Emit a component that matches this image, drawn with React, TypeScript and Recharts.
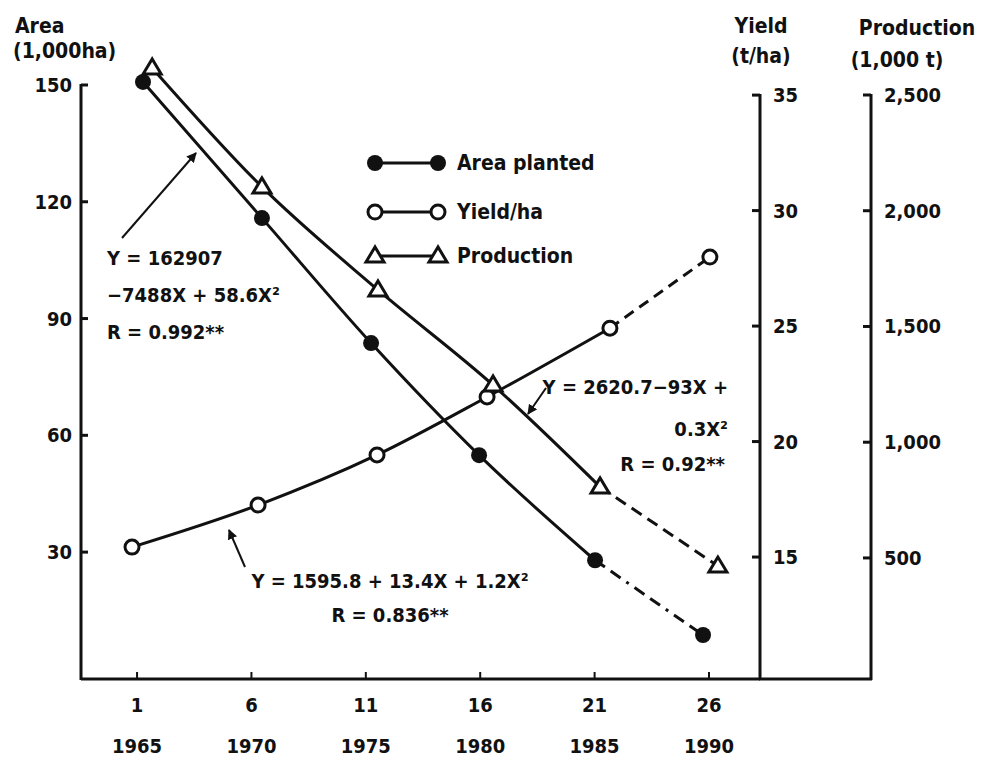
import React from 'react';
import { ComposedChart, Line, Scatter, XAxis, YAxis, Legend } from 'recharts';

// ---------- data ----------
const xTicks = [1, 6, 11, 16, 21, 26];
const yearLabels = ['1965', '1970', '1975', '1980', '1985', '1990'];

const areaX = [1.26, 6.46, 11.23, 15.95, 21.02, 25.74];
const areaValues = [150.8, 115.8, 83.7, 54.9, 27.9, 8.7];

const yieldX = [0.78, 6.29, 11.49, 16.3, 21.67, 26.04];
const yieldValues = [15.43, 17.25, 19.42, 21.93, 24.91, 27.99];

const prodX = [1.66, 6.46, 11.53, 16.56, 21.24, 26.39];
const prodValues = [2617, 2103, 1658, 1247, 807, 465];

const areaTicks = [30, 60, 90, 120, 150];
const yieldTicks = [15, 20, 25, 30, 35];
const prodTicks = [500, 1000, 1500, 2000, 2500];
const prodTickLabels = ['500', '1,000', '1,500', '2,000', '2,500'];

const seriesNames = ['Area planted', 'Yield/ha', 'Production'];

// ---------- helpers ----------
const mk = (xs: number[], ys: number[]) => xs.map((x, i) => ({ x, y: ys[i] }));
const areaData = mk(areaX, areaValues);
const yieldData = mk(yieldX, yieldValues);
const prodData = mk(prodX, prodValues);

const FONT = "'DejaVu Sans Condensed', 'DejaVu Sans', sans-serif";
const INK = '#111';
const Y_AX = 'a_yield';
const P_AX = 'b_prod';

const XTick = (p: any) => {
  const i = xTicks.indexOf(p.payload.value);
  return (
    <g>
      <line x1={p.x} x2={p.x} y1={p.y - 7} y2={p.y} stroke={INK} strokeWidth={2} />
      <text x={p.x} y={p.y + 33} textAnchor="middle" fontFamily={FONT} fontWeight="bold" fontSize={20} fill={INK}>
        {String(p.payload.value)}
      </text>
      <text x={p.x} y={p.y + 74} textAnchor="middle" fontFamily={FONT} fontWeight="bold" fontSize={20} fill={INK}>
        {yearLabels[i]}
      </text>
    </g>
  );
};

const LeftTick = (p: any) => (
  <g>
    <line x1={p.x} x2={p.x + 7} y1={p.y} y2={p.y} stroke={INK} strokeWidth={3} />
    <text x={p.x - 9} y={p.y + 7} textAnchor="end" fontFamily={FONT} fontWeight="bold" fontSize={20} fill={INK}>
      {String(p.payload.value)}
    </text>
  </g>
);

const YieldTick = (p: any) => (
  <g>
    <line x1={p.x - 8} x2={p.x} y1={p.y} y2={p.y} stroke={INK} strokeWidth={3} />
    <text x={p.x + 13} y={p.y + 7} textAnchor="start" fontFamily={FONT} fontWeight="bold" fontSize={20} fill={INK}>
      {String(p.payload.value)}
    </text>
  </g>
);

const ProdTick = (p: any) => {
  const i = prodTicks.indexOf(p.payload.value);
  return (
    <g>
      <line x1={p.x - 8} x2={p.x} y1={p.y} y2={p.y} stroke={INK} strokeWidth={3} />
      <text x={p.x + 13} y={p.y + 7} textAnchor="start" fontFamily={FONT} fontWeight="bold" fontSize={20} fill={INK}>
        {prodTickLabels[i]}
      </text>
    </g>
  );
};

const FilledDot = (p: any) => <circle cx={p.cx} cy={p.cy} r={8} fill={INK} />;
const OpenDot = (p: any) => <circle cx={p.cx} cy={p.cy} r={7} fill="#fff" stroke={INK} strokeWidth={3} />;
const Tri = (p: any) => (
  <polygon
    points={`${p.cx},${p.cy - 9} ${p.cx - 9},${p.cy + 6} ${p.cx + 9},${p.cy + 6}`}
    fill="#fff"
    stroke={INK}
    strokeWidth={3}
  />
);

const LegendBox = () => (
  <svg width={260} height={125}>
    {seriesNames.map((name, i) => {
      const y = [15, 64, 108][i];
      const m1 = { cx: 20, cy: y };
      const m2 = { cx: 83, cy: y };
      return (
        <g key={name}>
          <line x1={20} x2={83} y1={y} y2={y} stroke={INK} strokeWidth={3} />
          {i === 0 && (<><FilledDot {...m1} /><FilledDot {...m2} /></>)}
          {i === 1 && (<><OpenDot {...m1} /><OpenDot {...m2} /></>)}
          {i === 2 && (<><Tri {...m1} /><Tri {...m2} /></>)}
          <text x={102} y={y + 7} fontFamily={FONT} fontWeight="bold" fontSize={21} fill={INK}>{name}</text>
        </g>
      );
    })}
  </svg>
);

const txt = { fontFamily: FONT, fontWeight: 'bold' as const, fontSize: 20, fill: INK };
const ttl = { fontFamily: FONT, fontWeight: 'bold' as const, fontSize: 21, fill: INK };

export default function App() {
  return (
    <div style={{ position: 'absolute', left: 0, top: 0, width: 982, height: 758, background: '#fff' }}>
      <ComposedChart width={982} height={758} margin={{ top: 60, right: 0, bottom: 0, left: 0 }}>
        <XAxis
          type="number"
          dataKey="x"
          domain={[-1.45, 28.23]}
          ticks={xTicks}
          interval={0}
          height={79}
          tickLine={false}
          tickSize={0}
          tickMargin={0}
          axisLine={{ stroke: INK, strokeWidth: 3 }}
          tick={(p: any) => <XTick {...p} />}
        />
        <YAxis
          yAxisId="area"
          orientation="left"
          width={81}
          domain={[-2.6, 156.42]}
          ticks={areaTicks}
          interval={0}
          tickLine={false}
          tickSize={0}
          tickMargin={0}
          axisLine={false}
          tick={(p: any) => <LeftTick {...p} />}
        />
        <YAxis
          yAxisId={Y_AX}
          orientation="right"
          width={111}
          domain={[9.72, 36.52]}
          ticks={yieldTicks}
          interval={0}
          tickLine={false}
          tickSize={0}
          tickMargin={0}
          axisLine={false}
          tick={(p: any) => <YieldTick {...p} />}
        />
        <YAxis
          yAxisId={P_AX}
          orientation="right"
          width={111}
          domain={[-23, 2651.2]}
          ticks={prodTicks}
          interval={0}
          tickLine={false}
          tickSize={0}
          tickMargin={0}
          axisLine={false}
          tick={(p: any) => <ProdTick {...p} />}
        />
        <Legend
          layout="vertical"
          verticalAlign="middle"
          align="center"
          content={() => <LegendBox />}
          wrapperStyle={{ left: 355, top: 148, width: 260, height: 125 }}
        />

        {/* Area planted */}
        <Line yAxisId="area" data={areaData.slice(0, 5)} dataKey="y" type="monotone" stroke={INK} strokeWidth={3} dot={false} isAnimationActive={false} name="Area planted" />
        <Line yAxisId="area" data={areaData.slice(4)} dataKey="y" type="linear" stroke={INK} strokeWidth={3} strokeDasharray="12 7 12 7 3 7" dot={false} isAnimationActive={false} legendType="none" />
        <Scatter yAxisId="area" data={areaData} dataKey="y" shape={(p: any) => <FilledDot {...p} />} isAnimationActive={false} legendType="none" />

        {/* Yield/ha */}
        <Line yAxisId={Y_AX} data={yieldData.slice(0, 5)} dataKey="y" type="monotone" stroke={INK} strokeWidth={3} dot={false} isAnimationActive={false} name="Yield/ha" />
        <Line yAxisId={Y_AX} data={yieldData.slice(4)} dataKey="y" type="linear" stroke={INK} strokeWidth={3} strokeDasharray="11 7" dot={false} isAnimationActive={false} legendType="none" />
        <Scatter yAxisId={Y_AX} data={yieldData} dataKey="y" shape={(p: any) => <OpenDot {...p} />} isAnimationActive={false} legendType="none" />

        {/* Production */}
        <Line yAxisId={P_AX} data={prodData.slice(0, 5)} dataKey="y" type="monotone" stroke={INK} strokeWidth={3} dot={false} isAnimationActive={false} name="Production" />
        <Line yAxisId={P_AX} data={prodData.slice(4)} dataKey="y" type="linear" stroke={INK} strokeWidth={3} strokeDasharray="12 7" dot={false} isAnimationActive={false} legendType="none" />
        <Scatter yAxisId={P_AX} data={prodData} dataKey="y" shape={(p: any) => <Tri {...p} />} isAnimationActive={false} legendType="none" />
      </ComposedChart>

      <svg width={982} height={758} style={{ position: 'absolute', left: 0, top: 0, pointerEvents: 'none' }}>
        <defs>
          <marker id="arr" viewBox="0 0 10 10" refX="9" refY="5" markerWidth="5" markerHeight="5" orient="auto-start-reverse">
            <path d="M0,0 L10,5 L0,10 z" fill={INK} />
          </marker>
        </defs>
        {/* axis lines */}
        <line x1={81} x2={81} y1={84} y2={680} stroke={INK} strokeWidth={3} />
        <line x1={760} x2={760} y1={94} y2={680} stroke={INK} strokeWidth={3} />
        <line x1={871} x2={871} y1={94} y2={680} stroke={INK} strokeWidth={3} />
        <line x1={759} x2={872} y1={679} y2={679} stroke={INK} strokeWidth={3} />

        {/* axis titles */}
        <text x={15} y={33} {...ttl}>Area</text>
        <text x={13} y={58} {...ttl}>(1,000ha)</text>
        <text x={761} y={33} {...ttl} textAnchor="middle">Yield</text>
        <text x={761} y={63} {...ttl} textAnchor="middle">(t/ha)</text>
        <text x={917} y={35} {...ttl} textAnchor="middle">Production</text>
        <text x={897} y={67} {...ttl} textAnchor="middle">(1,000 t)</text>

        {/* annotation: area */}
        <line x1={122} y1={238} x2={196} y2={153} stroke={INK} strokeWidth={2} markerEnd="url(#arr)" />
        <text x={107} y={265} {...txt}>Y = 162907</text>
        <text x={107} y={302} {...txt}>−7488X + 58.6X²</text>
        <text x={107} y={339} {...txt}>R = 0.992**</text>

        {/* annotation: production */}
        <line x1={546} y1={388} x2={528} y2={414} stroke={INK} strokeWidth={2} markerEnd="url(#arr)" />
        <text x={728} y={394} {...txt} textAnchor="end">Y = 2620.7−93X +</text>
        <text x={728} y={436} {...txt} textAnchor="end">0.3X²</text>
        <text x={725} y={471} {...txt} textAnchor="end">R = 0.92**</text>

        {/* annotation: yield */}
        <line x1={245} y1={567} x2={229} y2={530} stroke={INK} strokeWidth={2} markerEnd="url(#arr)" />
        <text x={390} y={588} {...txt} textAnchor="middle">Y = 1595.8 + 13.4X + 1.2X²</text>
        <text x={390} y={622} {...txt} textAnchor="middle">R = 0.836**</text>
      </svg>
    </div>
  );
}
